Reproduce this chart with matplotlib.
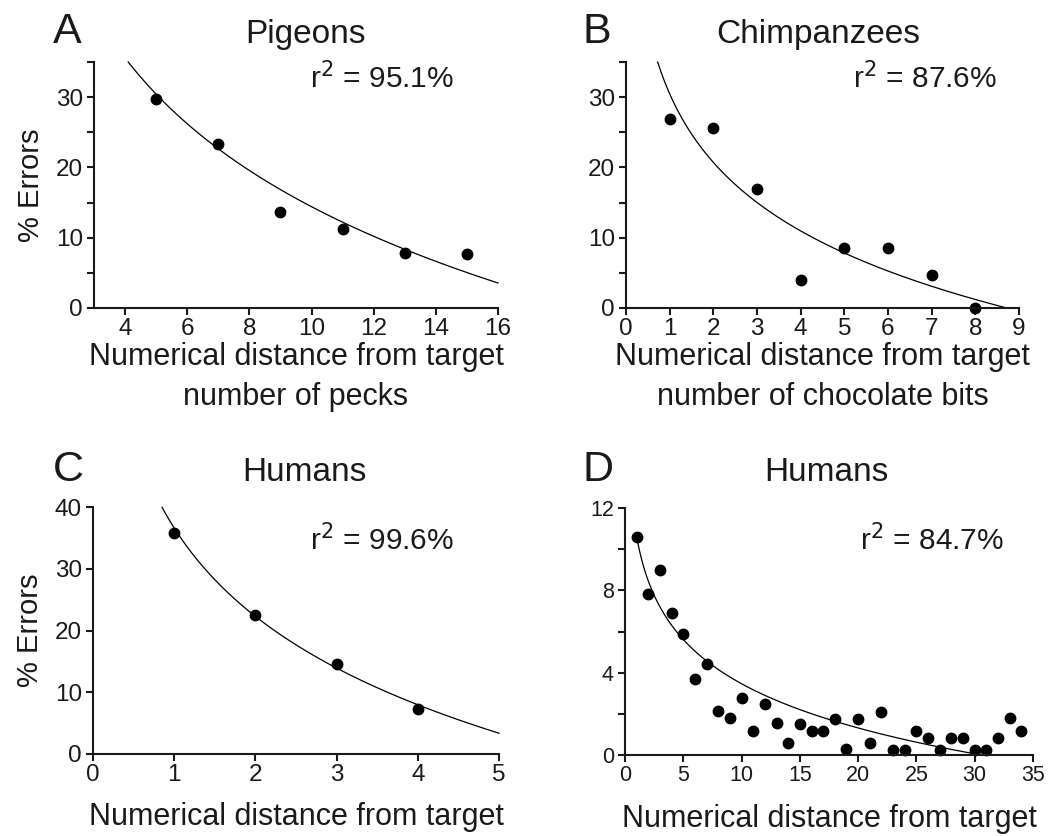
import matplotlib
matplotlib.use('agg')
import matplotlib.pyplot as plt
import numpy as np

plt.rcParams['font.family'] = ['Liberation Sans', 'DejaVu Sans']

W, H = 1053, 836

# ---------------- data ----------------
# A: pigeons
pig_x = [5, 7, 9, 11, 13, 15]
pig_y = [29.8, 23.3, 13.7, 11.2, 7.8, 7.7]
pig_fit = (67.6, 23.1, 4.1, 16.0)        # y = a - b*ln(x), from x0 to x1

# B: chimpanzees
chimp_x = [1, 2, 3, 4, 5, 6, 7, 8]
chimp_y = [26.9, 25.6, 17.0, 4.0, 8.6, 8.6, 4.7, 0.0]
chimp_fit = (30.47, 14.07, 0.725, 8.72)

# C: humans (small range)
hum1_x = [1, 2, 3, 4]
hum1_y = [35.8, 22.5, 14.5, 7.3]
hum1_fit = (36.6, 20.65, 0.85, 5.0)

# D: humans (large range)
hum2_x = list(range(1, 35))
hum2_y = [10.6, 7.8, 9.0, 6.9, 5.9, 3.7, 4.4, 2.16, 1.78, 2.76,
          1.18, 2.48, 1.54, 0.57, 1.49, 1.18, 1.18, 1.75, 0.28, 1.75,
          0.57, 2.1, 0.24, 0.24, 1.18, 0.84, 0.24, 0.84, 0.84, 0.24,
          0.24, 0.84, 1.78, 1.18]
hum2_fit = (10.6, 3.1, 1.0, 30.0)

col = '#1a1a1a'


def ax_at(left, top, right, bottom):
    return fig.add_axes([left / W, 1 - bottom / H, (right - left) / W, (bottom - top) / H])


def style(ax, xlim, ylim, xticks, yticks, ylabels, tsize=17.5):
    for s in ('top', 'right'):
        ax.spines[s].set_visible(False)
    for s in ('left', 'bottom'):
        ax.spines[s].set_linewidth(1.5)
        ax.spines[s].set_color(col)
    ax.set_xlim(*xlim)
    ax.set_ylim(*ylim)
    ax.set_xticks(xticks)
    ax.set_yticks(yticks)
    ax.set_yticklabels(ylabels)
    ax.tick_params(length=5, width=1.5, color=col, labelsize=tsize, labelcolor=col, pad=2)
    ax.tick_params(axis='y', pad=3)
    ax.patch.set_alpha(0)


def draw(ax, x, y, fit):
    a, b, x0, x1 = fit
    xs = np.linspace(x0, x1, 200)
    ax.plot(xs, a - b * np.log(xs), color='black', lw=0.9, clip_on=False)
    ax.plot(x, y, 'o', color='black', ms=7.5, clip_on=False)


def ftext(x, y, s, size, ha='left'):
    fig.text(x / W, 1 - y / H, s, fontsize=size, ha=ha, va='baseline', color=col)


fig = plt.figure(figsize=(W / 100, H / 100), dpi=100)

# A
axA = ax_at(94, 62, 498, 308)
style(axA, (3, 16), (0, 35), range(4, 17, 2), range(0, 36, 5),
      ['0', '', '10', '', '20', '', '30', ''])
draw(axA, pig_x, pig_y, pig_fit)
axA.set_xlabel('Numerical distance from target\nnumber of pecks', fontsize=22,
               color=col, linespacing=1.4, labelpad=2)
axA.set_ylabel('% Errors', fontsize=21, color=col, labelpad=8)

# B
axB = ax_at(626, 62, 1019, 308)
style(axB, (0, 9), (0, 35), range(0, 10), range(0, 36, 5),
      ['0', '', '10', '', '20', '', '30', ''])
draw(axB, chimp_x, chimp_y, chimp_fit)
axB.set_xlabel('Numerical distance from target\nnumber of chocolate bits', fontsize=22,
               color=col, linespacing=1.4, labelpad=2)

# C
axC = ax_at(93, 507, 499, 754)
style(axC, (0, 5), (0, 40), range(0, 6), range(0, 41, 10),
      ['0', '10', '20', '30', '40'])
draw(axC, hum1_x, hum1_y, hum1_fit)
axC.set_xlabel('Numerical distance from target', fontsize=22, color=col, labelpad=12)
axC.set_ylabel('% Errors', fontsize=21, color=col, labelpad=8)

# D
axD = ax_at(625, 508, 1033, 755)
style(axD, (0, 35), (0, 12), range(0, 36, 5), range(0, 13, 2),
      ['0', '', '4', '', '8', '', '12'], tsize=15.5)
draw(axD, hum2_x, hum2_y, hum2_fit)
axD.set_xlabel('Numerical distance from target', fontsize=22, color=col, labelpad=13)

# panel letters, titles, r^2
ftext(53, 43, 'A', 31)
ftext(583, 43, 'B', 31)
ftext(53, 481, 'C', 31)
ftext(583, 481, 'D', 31)

ftext(306, 43, 'Pigeons', 24, ha='center')
ftext(818, 43, 'Chimpanzees', 24, ha='center')
ftext(304, 481, 'Humans', 24, ha='center')
ftext(826, 481, 'Humans', 24, ha='center')

ftext(310, 88, r'r$^2$ = 95.1%', 21.5)
ftext(853, 88, r'r$^2$ = 87.6%', 21.5)
ftext(310, 550, r'r$^2$ = 99.6%', 21.5)
ftext(860, 550, r'r$^2$ = 84.7%', 21.5)

plt.savefig('out.png', dpi=100)
plt.close()
